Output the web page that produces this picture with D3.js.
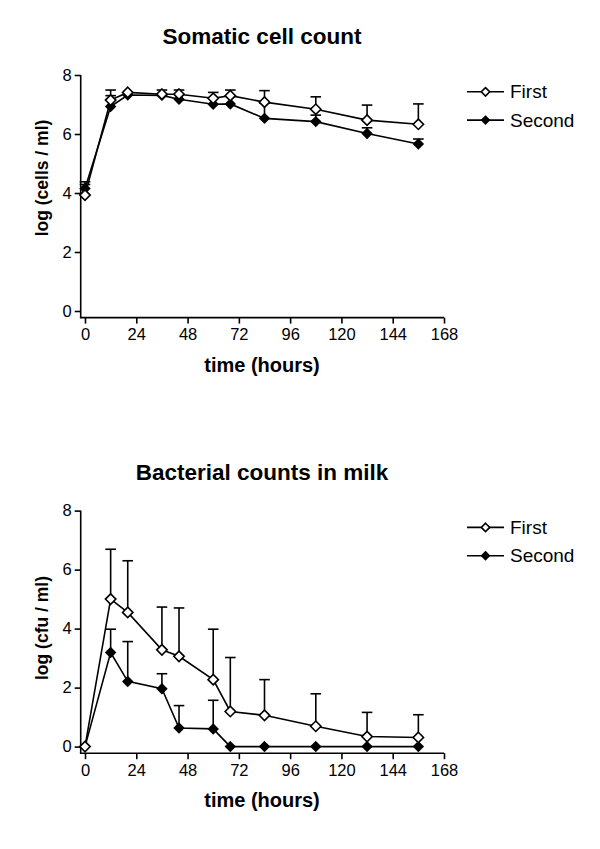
<!DOCTYPE html>
<html><head><meta charset="utf-8">
<script src="https://cdn.jsdelivr.net/npm/d3@7"></script>
<style>
html,body{margin:0;padding:0;background:#fff;}
svg{display:block;font-family:"Liberation Sans",Arial,Helvetica,sans-serif;}
</style></head>
<body>
<svg id="chart" width="600" height="849"></svg>
<script>
// ---- data ----
const times = [0, 12, 20, 36, 44, 60, 68, 84, 108, 132, 156];
const xTicks = [0, 24, 48, 72, 96, 120, 144, 168];
const yTicks = [0, 2, 4, 6, 8];
const seriesNames = ["First", "Second"];

// Somatic cell count (log cells/ml)
const sccFirst       = [3.93, 7.15, 7.41, 7.35, 7.35, 7.21, 7.30, 7.08, 6.84, 6.47, 6.33];
const sccFirstUpper  = [4.38, 7.49, 7.41, 7.49, 7.49, 7.41, 7.49, 7.47, 7.26, 6.98, 7.02];
const sccSecond      = [4.15, 6.93, 7.32, 7.31, 7.18, 7.01, 7.02, 6.53, 6.42, 6.02, 5.66];
const sccSecondUpper = [4.29, 7.30, 7.32, 7.31, 7.18, 7.01, 7.02, 7.05, 6.64, 6.21, 5.83];

// Bacterial counts in milk (log cfu/ml)
const bacFirst       = [0, 5.00, 4.55, 3.28, 3.06, 2.27, 1.19, 1.06, 0.69, 0.34, 0.31];
const bacFirstUpper  = [0, 6.69, 6.30, 4.73, 4.70, 3.98, 3.02, 2.27, 1.79, 1.16, 1.08];
const bacSecond      = [0, 3.19, 2.21, 1.96, 0.63, 0.60, 0, 0, 0, 0, 0];
const bacSecondUpper = [0, 3.98, 3.56, 2.47, 1.39, 1.57, 0, 0, 0, 0, 0];

const panels = [
  {title: "Somatic cell count", ylabel: "log (cells / ml)", top: 75,
   first: sccFirst, firstUp: sccFirstUpper, second: sccSecond, secondUp: sccSecondUpper, ylabelY: 178},
  {title: "Bacterial counts in milk", ylabel: "log (cfu / ml)", top: 510.6,
   first: bacFirst, firstUp: bacFirstUpper, second: bacSecond, secondUp: bacSecondUpper, ylabelY: 628}
];

const svg = d3.select("#chart");
const diamond = r => `M0,${-r}L${r},0L0,${r}L${-r},0Z`;
const SW = 1.6;

panels.forEach(p => {
  const g = svg.append("g");
  const x = d3.scaleLinear().domain([0, 168]).range([85, 444]);
  const y = d3.scaleLinear().domain([0, 8]).range([p.top + 236, p.top]);
  const axisY = p.top + 242.6;
  const axisX = 80.7;

  // title
  g.append("text").attr("x", 262).attr("y", p.top - 31)
    .attr("text-anchor", "middle").attr("font-size", 22.5).attr("font-weight", "bold")
    .text(p.title);

  // y axis
  const ya = g.append("g").attr("transform", `translate(${axisX},0)`)
    .call(d3.axisLeft(y).tickValues(yTicks).tickSize(6).tickSizeOuter(0).tickPadding(3));
  ya.select(".domain").remove();
  ya.selectAll(".tick line").attr("stroke-width", SW);
  ya.selectAll(".tick text").attr("font-size", 16.5).attr("fill", "#000").attr("font-family", "Liberation Sans, Arial, sans-serif");
  g.append("line").attr("x1", axisX).attr("x2", axisX).attr("y1", y(8)).attr("y2", axisY)
    .attr("stroke", "#000").attr("stroke-width", SW);

  // x axis
  const xa = g.append("g").attr("transform", `translate(0,${axisY})`)
    .call(d3.axisBottom(x).tickValues(xTicks).tickSize(6).tickSizeOuter(0).tickPadding(5));
  xa.select(".domain").remove();
  xa.selectAll(".tick line").attr("stroke-width", SW);
  xa.selectAll(".tick text").attr("font-size", 16.5).attr("fill", "#000").attr("font-family", "Liberation Sans, Arial, sans-serif");
  g.append("line").attr("x1", axisX - SW/2).attr("x2", x(168)).attr("y1", axisY).attr("y2", axisY)
    .attr("stroke", "#000").attr("stroke-width", SW);

  // axis labels
  g.append("text").attr("x", 262).attr("y", axisY + 54)
    .attr("text-anchor", "middle").attr("font-size", 20).attr("font-weight", "bold")
    .text("time (hours)");
  g.append("text").attr("transform", `translate(48,${p.ylabelY}) rotate(-90)`)
    .attr("text-anchor", "middle").attr("font-size", 17.5).attr("font-weight", "bold")
    .text(p.ylabel);

  const line = d3.line().x((d, i) => x(times[i])).y(d => y(d));
  const series = [
    {vals: p.second, up: p.secondUp, fill: "#000"},
    {vals: p.first, up: p.firstUp, fill: "#fff"}
  ];
  // error bars (upward)
  series.forEach(s => {
    const eb = g.append("g");
    s.vals.forEach((v, i) => {
      if (s.up[i] - v < 0.05) return;
      eb.append("line").attr("x1", x(times[i])).attr("x2", x(times[i]))
        .attr("y1", y(v)).attr("y2", y(s.up[i])).attr("stroke", "#000").attr("stroke-width", SW);
      eb.append("line").attr("x1", x(times[i]) - 5.3).attr("x2", x(times[i]) + 5.3)
        .attr("y1", y(s.up[i])).attr("y2", y(s.up[i])).attr("stroke", "#000").attr("stroke-width", SW);
    });
  });
  // lines and markers
  series.forEach(s => {
    g.append("path").datum(s.vals).attr("d", line).attr("fill", "none")
      .attr("stroke", "#000").attr("stroke-width", SW);
    g.selectAll(null).data(s.vals).enter().append("path")
      .attr("transform", (d, i) => `translate(${x(times[i])},${y(d)})`)
      .attr("d", diamond(s.fill === "#000" ? 4.6 : 5.2))
      .attr("fill", s.fill).attr("stroke", "#000").attr("stroke-width", SW);
  });

  // legend
  const leg = g.append("g");
  seriesNames.forEach((name, i) => {
    const cy = p.top + 16.8 + i * 28.3;
    leg.append("line").attr("x1", 467).attr("x2", 504).attr("y1", cy).attr("y2", cy)
      .attr("stroke", "#000").attr("stroke-width", SW);
    leg.append("path").attr("transform", `translate(485.5,${cy})`)
      .attr("d", diamond(i === 0 ? 4.2 : 3.8))
      .attr("fill", i === 0 ? "#fff" : "#000").attr("stroke", "#000").attr("stroke-width", SW);
    leg.append("text").attr("x", 510).attr("y", cy + 6.6).attr("font-size", 19)
      .attr("fill", "#000").text(name);
  });
});
</script>
</body></html>
